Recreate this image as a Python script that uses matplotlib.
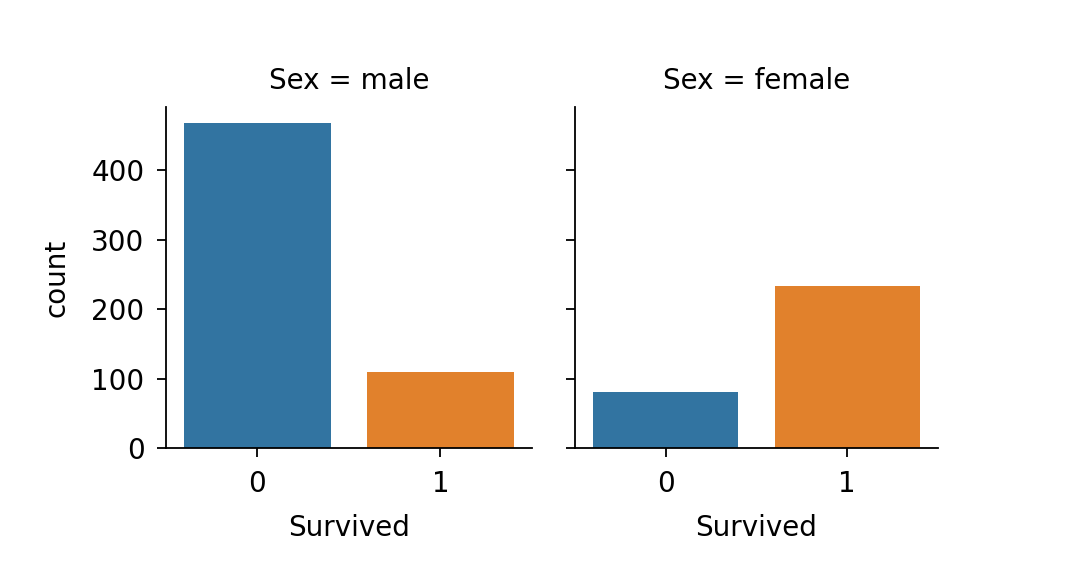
import matplotlib
matplotlib.use("Agg")
import matplotlib.pyplot as plt

# ---------------- DATA ----------------
sexes = ["male", "female"]
survived_cats = ["0", "1"]
counts_male = [468, 109]
counts_female = [81, 233]
bar_colors = ["#3274a1", "#e1812c"]

plt.rcParams["font.family"] = ["DejaVu Sans"]
FS = 20

fig = plt.figure(figsize=(10.66, 5.82), dpi=100)
ax1 = fig.add_axes([0.1557, 0.2302, 0.3433, 0.5858])
ax2 = fig.add_axes([0.5394, 0.2302, 0.3405, 0.5858], sharey=ax1)

for ax, sex, vals in zip([ax1, ax2], sexes, [counts_male, counts_female]):
    ax.bar(range(len(survived_cats)), vals, width=0.8, color=bar_colors)
    ax.set_xticks(range(len(survived_cats)))
    ax.set_xticklabels(survived_cats)
    ax.set_xlim(-0.5, 1.5)
    ax.set_xlabel("Survived", fontsize=FS, labelpad=12)
    ax.set_title(f"Sex = {sex}", fontsize=FS, pad=13)
    ax.spines["top"].set_visible(False)
    ax.spines["right"].set_visible(False)
    for s in ["left", "bottom"]:
        ax.spines[s].set_linewidth(1.3)
    ax.tick_params(labelsize=FS, length=6.5, width=1.3, pad=9)

ax1.set_ylim(0, 491)
ax1.set_yticks([0, 100, 200, 300, 400])
ax1.set_ylabel("count", fontsize=FS, labelpad=15)
ax2.tick_params(axis="y", labelleft=False)

fig.savefig("out.png", dpi=100)
